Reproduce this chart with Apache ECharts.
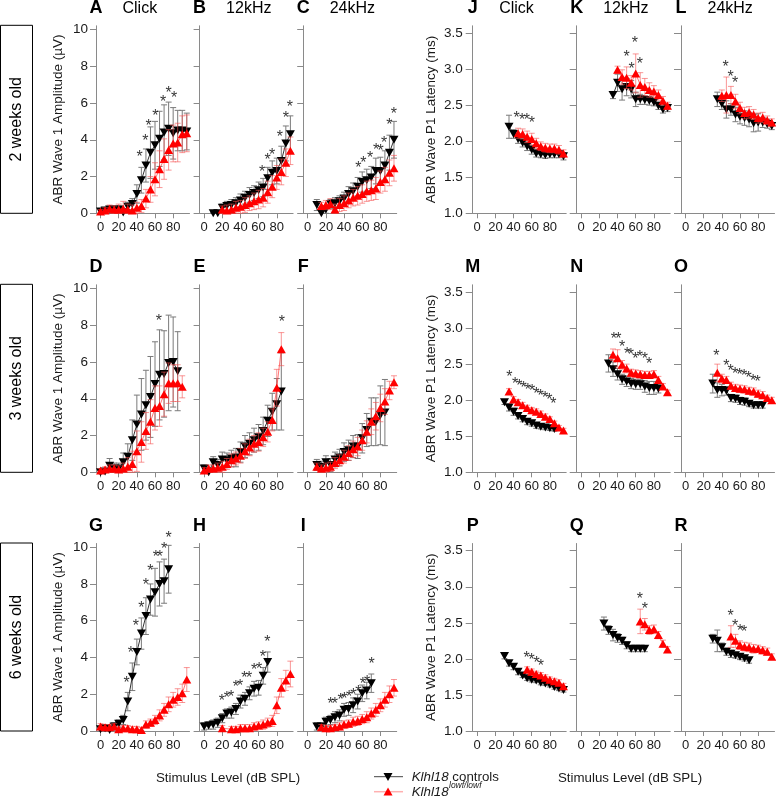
<!DOCTYPE html>
<html><head><meta charset="utf-8">
<script src="https://cdn.jsdelivr.net/npm/echarts@6/dist/echarts.min.js"></script>
<style>html,body{margin:0;padding:0;background:#fff}#c{width:776px;height:798px}</style>
</head><body><div id="c"></div><script>
// ===== DATA: [stimulus level dB SPL, mean, error] ; significance: [level, y] =====
// --- ABR Wave 1 Amplitude (µV) ---
const A_ctrl=[[0,0.10,0.15],[5,0.15,0.15],[10,0.2,0.2],[15,0.2,0.15],[20,0.2,0.2],[25,0.05,0.2],[30,0.35,0.25],[35,0.5,0.3],[40,1.05,0.5],[45,1.8,0.7],[50,2.6,0.9],[55,3.3,1.4],[60,3.7,1.3],[65,4.05,1.5],[70,4.4,1.5],[75,4.6,1.45],[80,4.35,1.4],[85,4.5,1.1],[90,4.5,1.1],[95,4.45,1.0]];
const A_mut=[[0,0.1,0.1],[5,0.15,0.15],[10,0.25,0.2],[15,0.2,0.2],[20,0.2,0.3],[25,0.25,0.4],[30,0.2,0.3],[35,0.15,0.3],[40,0.3,0.3],[45,0.4,0.35],[50,0.8,0.5],[55,1.3,0.7],[60,1.85,0.9],[65,2.4,1.0],[70,2.95,1.1],[75,3.45,1.1],[80,3.8,1.0],[85,3.85,1.05],[90,4.3,1.0],[95,4.35,1.0]];
const A_sig=[[43,3.26],[49.5,4.17],[53,4.98],[60.5,5.53],[69,6.29],[75,6.74],[81,6.49]];
const B_ctrl=[[10,0.0,0.05],[15,0.0,0.05],[20,0.3,0.2],[25,0.4,0.25],[30,0.45,0.3],[35,0.55,0.3],[40,0.7,0.35],[45,0.85,0.35],[50,1.0,0.4],[55,1.1,0.4],[60,1.25,0.45],[65,1.4,0.5],[70,1.9,0.6],[75,2.2,0.65],[80,2.3,0.7],[85,2.85,0.8],[90,3.8,0.95],[95,4.3,1.0]];
const B_mut=[[20,0.2,0.2],[25,0.15,0.3],[30,0.2,0.3],[35,0.3,0.35],[40,0.35,0.35],[45,0.45,0.4],[50,0.55,0.4],[55,0.65,0.45],[60,0.75,0.5],[65,0.85,0.5],[70,1.15,0.6],[75,1.45,0.6],[80,1.95,0.65],[85,2.25,0.7],[90,2.75,0.75],[95,3.4,0.75]];
const B_sig=[[64,2.45],[70,3.1],[75,3.4],[83.5,4.35],[90,5.4],[94.5,6.0]];
const C_ctrl=[[10,0.45,0.3],[15,0.0,0.1],[20,0.2,0.2],[25,0.5,0.25],[30,0.55,0.3],[35,0.65,0.3],[40,0.8,0.35],[45,1.05,0.4],[50,1.2,0.45],[55,1.45,0.5],[60,1.7,0.55],[65,1.8,0.6],[70,1.95,0.6],[75,2.3,0.7],[80,2.3,0.75],[85,2.6,0.8],[90,3.3,0.95],[95,4.0,1.0]];
const C_mut=[[15,0.4,0.2],[20,0.45,0.25],[25,0.5,0.3],[30,0.2,0.3],[35,0.45,0.35],[40,0.55,0.4],[45,0.7,0.4],[50,0.85,0.45],[55,0.95,0.5],[60,1.05,0.5],[65,1.2,0.55],[70,1.25,0.55],[75,1.35,0.6],[80,1.7,0.6],[85,1.85,0.65],[90,2.2,0.7],[95,2.45,0.7]];
const C_sig=[[55.8,2.66],[61.3,2.93],[68.6,3.22],[75.2,3.68],[80.3,3.62],[84,4.02],[89.8,5.03],[95,5.6]];
const D_ctrl=[[0,0.0,0.1],[5,0.05,0.15],[10,0.35,0.4],[15,0.2,0.3],[20,0.2,0.3],[25,0.55,0.5],[30,0.85,0.7],[35,1.75,1.1],[40,2.6,1.6],[45,3.15,1.95],[50,3.65,1.9],[55,4.1,2.2],[60,4.8,2.3],[65,5.3,2.45],[70,5.35,2.35],[75,5.95,2.6],[80,6.0,2.45],[85,5.5,2.15]];
const D_mut=[[0,0.1,0.1],[5,0.15,0.15],[10,0.2,0.2],[15,0.2,0.2],[20,0.15,0.2],[25,0.2,0.3],[30,0.3,0.5],[35,0.45,0.7],[40,1.15,1.1],[45,1.65,1.1],[50,2.25,1.0],[55,2.75,1.2],[60,3.5,1.2],[65,3.6,1.1],[70,4.25,1.2],[75,4.85,1.1],[80,4.85,1.0],[85,4.85,1.0],[90,4.65,0.6]];
const D_sig=[[64.2,8.46]];
const E_ctrl=[[0,0.2,0.2],[5,0.0,0.15],[10,0.55,0.3],[15,0.4,0.3],[20,0.7,0.4],[25,0.65,0.4],[30,0.75,0.45],[35,0.8,0.5],[40,1.1,0.55],[45,1.4,0.6],[50,1.55,0.6],[55,1.75,0.65],[60,1.9,0.7],[65,2.25,0.75],[70,2.8,0.85],[75,3.3,1.0],[80,3.7,1.4],[85,4.4,2.1]];
const E_mut=[[0,0.1,0.15],[5,0.2,0.2],[10,0.2,0.2],[15,0.25,0.25],[20,0.3,0.3],[25,0.45,0.3],[30,0.65,0.35],[35,0.75,0.35],[40,0.9,0.4],[45,1.15,0.4],[50,1.35,0.45],[55,1.55,0.45],[60,1.65,0.5],[65,1.9,0.5],[70,2.2,0.55],[75,2.85,0.6],[80,4.6,1.0],[85,6.7,0.9]];
const E_sig=[[85.5,8.37]];
const F_ctrl=[[10,0.4,0.3],[15,0.3,0.3],[20,0.55,0.35],[25,0.4,0.35],[30,0.7,0.4],[35,0.8,0.45],[40,1.1,0.5],[45,1.2,0.55],[50,1.4,0.6],[55,1.4,0.65],[60,1.85,0.8],[65,2.3,0.9],[70,2.75,1.3],[75,2.75,1.3],[80,3.1,1.6],[85,3.25,1.8]];
const F_mut=[[10,0.3,0.2],[15,0.2,0.2],[20,0.25,0.25],[25,0.3,0.25],[30,0.5,0.3],[35,0.65,0.3],[40,0.85,0.35],[45,1.05,0.4],[50,1.25,0.45],[55,1.4,0.5],[60,1.75,0.55],[65,2.2,0.6],[70,2.75,0.7],[75,3.05,0.75],[80,3.5,0.75],[85,3.85,0.7],[90,4.45,0.5],[95,4.9,0.35]];
const F_sig=[];
const G_ctrl=[[0,0.1,0.15],[5,0.15,0.2],[10,0.05,0.15],[15,0.25,0.2],[20,0.4,0.2],[25,0.6,0.25],[30,1.6,0.5],[35,2.95,0.75],[40,4.3,0.7],[45,5.3,0.85],[50,6.25,1.0],[55,7.15,0.85],[60,7.55,1.3],[65,8.0,1.2],[70,8.15,1.2],[75,8.8,1.3]];
const G_mut=[[0,0.25,0.15],[5,0.2,0.15],[10,0.2,0.15],[15,0.25,0.15],[20,0.1,0.15],[25,0.15,0.15],[30,0.15,0.15],[35,0.1,0.15],[40,0.1,0.15],[45,0.05,0.15],[50,0.35,0.2],[55,0.45,0.2],[60,0.6,0.25],[65,0.85,0.3],[70,1.15,0.35],[75,1.45,0.4],[80,1.7,0.4],[85,1.85,0.45],[90,2.05,0.5],[95,2.8,0.65]];
const G_sig=[[28.6,2.8],[33.4,4.47],[38.9,5.9],[45,6.9],[50,8.13],[55,8.9],[61,9.66],[65.3,9.66],[70,10.1],[75,10.7]];
const H_ctrl=[[0,0.25,0.2],[5,0.3,0.2],[10,0.35,0.25],[15,0.45,0.25],[20,0.7,0.25],[25,0.95,0.25],[30,1.0,0.3],[35,1.2,0.3],[40,1.6,0.35],[45,1.75,0.35],[50,2.05,0.35],[55,2.3,0.4],[60,2.35,0.4],[65,3.0,0.45],[70,3.75,0.55]];
const H_mut=[[20,0.15,0.15],[30,0.1,0.15],[35,0.1,0.15],[40,0.15,0.2],[45,0.15,0.2],[50,0.15,0.2],[55,0.25,0.2],[60,0.3,0.2],[65,0.35,0.25],[70,0.45,0.25],[75,0.55,0.3],[80,1.4,0.45],[85,2.35,0.5],[90,2.75,0.55],[95,3.1,0.7]];
const H_sig=[[19.4,1.82],[25,2.0],[29.7,2.07],[35,2.58],[39.6,2.67],[44.4,3.08],[49.5,3.12],[55,3.53],[60.5,3.57],[64.6,4.23],[69.7,5.06]];
const I_ctrl=[[10,0.25,0.2],[15,0.25,0.2],[20,0.5,0.25],[25,0.6,0.25],[30,0.75,0.3],[35,0.85,0.3],[40,1.15,0.35],[45,1.2,0.35],[50,1.4,0.4],[55,1.6,0.4],[60,2.05,0.45],[65,2.2,0.45],[70,2.6,0.5]];
const I_mut=[[15,0.2,0.15],[20,0.15,0.15],[25,0.15,0.15],[30,0.2,0.15],[35,0.25,0.2],[40,0.35,0.2],[45,0.4,0.2],[50,0.5,0.25],[55,0.55,0.25],[60,0.65,0.25],[65,0.75,0.3],[70,0.95,0.3],[75,1.15,0.35],[80,1.4,0.35],[85,1.7,0.4],[90,2.0,0.45],[95,2.35,0.45]];
const I_sig=[[25.3,1.68],[30,1.68],[36.3,1.9],[40.4,1.95],[45.5,2.04],[50.3,2.18],[55.8,2.36],[60.6,2.76],[65.3,2.9],[70.5,3.84]];
// --- ABR Wave P1 Latency (ms) ---
const J_ctrl=[[35,2.2,0.16],[40,2.1,0.06],[45,2.03,0.06],[50,1.98,0.06],[55,1.93,0.06],[60,1.88,0.06],[65,1.83,0.05],[70,1.82,0.05],[75,1.81,0.05],[80,1.82,0.05],[85,1.82,0.05],[90,1.82,0.05],[95,1.79,0.05]];
const J_mut=[[45,2.11,0.07],[50,2.1,0.07],[55,2.06,0.08],[60,2.03,0.08],[65,1.97,0.07],[70,1.93,0.06],[75,1.91,0.06],[80,1.9,0.06],[85,1.9,0.06],[90,1.88,0.06],[95,1.83,0.05]];
const J_sig=[[43.4,2.37],[49.3,2.35],[54.7,2.35],[60.2,2.3]];
const K_ctrl=[[35,2.64,0.05],[40,2.81,0.12],[45,2.72,0.15],[50,2.75,0.12],[55,2.72,0.12],[60,2.58,0.1],[65,2.58,0.07],[70,2.57,0.06],[75,2.56,0.06],[80,2.54,0.05],[85,2.49,0.05],[90,2.44,0.05],[95,2.46,0.05]];
const K_mut=[[40,2.99,0.05],[45,2.89,0.1],[50,2.88,0.15],[55,2.81,0.1],[60,2.94,0.27],[65,2.78,0.17],[70,2.75,0.12],[75,2.71,0.1],[80,2.69,0.08],[85,2.64,0.07],[90,2.56,0.06],[95,2.49,0.05]];
const K_sig=[[50,3.22],[55.5,3.06],[59,3.41],[64.6,3.13]];
const L_ctrl=[[35,2.58,0.1],[40,2.52,0.08],[45,2.44,0.12],[50,2.44,0.08],[55,2.37,0.1],[60,2.34,0.1],[65,2.32,0.1],[70,2.3,0.1],[75,2.25,0.12],[80,2.26,0.12],[85,2.26,0.07],[90,2.24,0.06],[95,2.21,0.05]];
const L_mut=[[40,2.63,0.08],[45,2.64,0.25],[50,2.64,0.12],[55,2.55,0.1],[60,2.46,0.08],[65,2.39,0.08],[70,2.4,0.08],[75,2.37,0.07],[80,2.32,0.07],[85,2.33,0.07],[90,2.29,0.06],[95,2.26,0.05]];
const L_sig=[[44.2,3.08],[49.6,2.95],[54.7,2.86]];
const M_ctrl=[[30,1.97,0.03],[35,1.9,0.05],[40,1.84,0.05],[45,1.78,0.04],[50,1.74,0.04],[55,1.7,0.04],[60,1.68,0.04],[65,1.65,0.04],[70,1.63,0.03],[75,1.62,0.03],[80,1.61,0.03],[85,1.6,0.03]];
const M_mut=[[35,2.12,0.04],[40,2.01,0.04],[45,1.97,0.04],[50,1.93,0.04],[55,1.89,0.04],[60,1.86,0.04],[65,1.84,0.04],[70,1.81,0.04],[75,1.77,0.04],[80,1.74,0.03],[85,1.68,0.03],[90,1.62,0.03],[95,1.58,0.03]];
const M_sig=[[35.4,2.37],[41.6,2.28],[46.5,2.25],[51,2.23],[55.8,2.2],[60.5,2.18],[65,2.14],[69.7,2.11],[74.8,2.08],[79.5,2.05],[83.9,2.0]];
const N_ctrl=[[30,2.51,0.12],[35,2.43,0.1],[40,2.36,0.08],[45,2.29,0.07],[50,2.26,0.07],[55,2.23,0.07],[60,2.22,0.07],[65,2.22,0.07],[70,2.19,0.08],[75,2.17,0.09],[80,2.17,0.09],[85,2.16,0.06]];
const N_mut=[[35,2.63,0.08],[40,2.58,0.12],[45,2.49,0.06],[50,2.44,0.06],[55,2.38,0.05],[60,2.37,0.05],[65,2.36,0.05],[70,2.35,0.05],[75,2.35,0.05],[80,2.36,0.05],[85,2.28,0.05],[90,2.19,0.04],[95,2.11,0.03]];
const N_sig=[[36,2.9],[41,2.9],[45,2.79],[50.4,2.69],[54.7,2.68],[59.5,2.63],[64.6,2.65],[70,2.63],[74.8,2.56]];
const O_ctrl=[[30,2.23,0.13],[35,2.14,0.1],[40,2.14,0.08],[45,2.13,0.06],[50,2.03,0.05],[55,2.02,0.05],[60,1.99,0.05],[65,1.98,0.05],[70,1.95,0.04],[75,1.93,0.04],[80,1.93,0.04],[85,1.93,0.04]];
const O_mut=[[35,2.38,0.12],[40,2.3,0.06],[45,2.28,0.05],[50,2.2,0.05],[55,2.17,0.05],[60,2.16,0.05],[65,2.15,0.05],[70,2.13,0.05],[75,2.12,0.05],[80,2.09,0.05],[85,2.07,0.05],[90,2.03,0.04],[95,2.0,0.04]];
const O_sig=[[34,2.66],[44.9,2.53],[49.6,2.46],[54.5,2.42],[59.5,2.4],[64.6,2.39],[69.6,2.36],[74.5,2.32],[79.4,2.31]];
const P_ctrl=[[30,2.04,0.04],[35,1.94,0.04],[40,1.89,0.04],[45,1.82,0.04],[50,1.77,0.03],[55,1.73,0.03],[60,1.71,0.03],[65,1.7,0.03],[70,1.67,0.03],[75,1.66,0.03],[80,1.64,0.03],[85,1.61,0.03],[90,1.59,0.03],[95,1.57,0.03]];
const P_mut=[[55,1.85,0.04],[60,1.82,0.04],[65,1.79,0.04],[70,1.77,0.04],[75,1.74,0.04],[80,1.71,0.04],[85,1.69,0.04],[90,1.67,0.04],[95,1.62,0.04]];
const P_sig=[[54.4,2.07],[59.9,2.04],[65.3,2.0],[70.1,1.96]];
const Q_ctrl=[[25,2.49,0.09],[30,2.4,0.06],[35,2.33,0.08],[40,2.29,0.06],[45,2.25,0.05],[50,2.19,0.05],[55,2.14,0.04],[60,2.14,0.04],[65,2.14,0.04],[70,2.14,0.04]];
const Q_mut=[[65,2.52,0.17],[70,2.48,0.08],[75,2.4,0.06],[80,2.41,0.06],[85,2.33,0.05],[90,2.21,0.05],[95,2.13,0.04]];
const Q_sig=[[64.6,2.88],[70,2.75]];
const R_ctrl=[[30,2.28,0.06],[35,2.25,0.15],[40,2.16,0.06],[45,2.1,0.05],[50,2.07,0.05],[55,2.05,0.04],[60,2.03,0.04],[65,2.01,0.04],[70,1.98,0.04]];
const R_mut=[[50,2.31,0.15],[55,2.25,0.09],[60,2.19,0.06],[65,2.17,0.06],[70,2.16,0.06],[75,2.14,0.06],[80,2.14,0.05],[85,2.12,0.05],[90,2.1,0.05],[95,2.03,0.04]];
const R_sig=[[49.6,2.65],[54.7,2.51],[60,2.44],[64.5,2.43]];

// tick labels & texts
const xTicks=[0,20,40,60,80];
const ampTicks=[0,2,4,6,8,10];
const latTicks=[1.0,1.5,2.0,2.5,3.0,3.5];
const stimuli=['Click','12kHz','24kHz'];
const ages=['2 weeks old','3 weeks old','6 weeks old'];
const ampName='ABR Wave 1 Amplitude (\u00b5V)';
const latName='ABR Wave P1 Latency (ms)';
const xName='Stimulus Level (dB SPL)';

const DATA={A:[A_ctrl,A_mut,A_sig],B:[B_ctrl,B_mut,B_sig],C:[C_ctrl,C_mut,C_sig],D:[D_ctrl,D_mut,D_sig],E:[E_ctrl,E_mut,E_sig],F:[F_ctrl,F_mut,F_sig],G:[G_ctrl,G_mut,G_sig],H:[H_ctrl,H_mut,H_sig],I:[I_ctrl,I_mut,I_sig],J:[J_ctrl,J_mut,J_sig],K:[K_ctrl,K_mut,K_sig],L:[L_ctrl,L_mut,L_sig],M:[M_ctrl,M_mut,M_sig],N:[N_ctrl,N_mut,N_sig],O:[O_ctrl,O_mut,O_sig],P:[P_ctrl,P_mut,P_sig],Q:[Q_ctrl,Q_mut,Q_sig],R:[R_ctrl,R_mut,R_sig]};
const LETTERS=[['A','B','C','J','K','L'],['D','E','F','M','N','O'],['G','H','I','P','Q','R']];

// ===== LAYOUT / STYLE =====
const FONT='"Liberation Sans", Arial, Helvetica, sans-serif';
const colLeft=[96,199.6,303.2,472.7,576.7,681];
const rowBottom=[213.3,472.3,731];
const W=93.5, H=187.5;
const AXC='#8a8a8a', TXT='#1a1a1a';

function errRender(color){
  return function(params, api){
    const x=api.value(0), lo=api.value(1), hi=api.value(2);
    const p1=api.coord([x,lo]), p2=api.coord([x,hi]);
    const w=3, st={stroke:color,lineWidth:1};
    return {type:'group',children:[
      {type:'line',shape:{x1:p1[0],y1:p1[1],x2:p2[0],y2:p2[1]},style:st},
      {type:'line',shape:{x1:p2[0]-w,y1:p2[1],x2:p2[0]+w,y2:p2[1]},style:st},
      {type:'line',shape:{x1:p1[0]-w,y1:p1[1],x2:p1[0]+w,y2:p1[1]},style:st}
    ]};
  };
}

const grids=[],xAxes=[],yAxes=[],series=[],graphics=[];
let k=0;
for(let r=0;r<3;r++){
  for(let c=0;c<6;c++){
    const id=LETTERS[r][c];
    const isAmp=c<3;
    const ymin=isAmp?0:1, ymax=isAmp?10.2:3.6;
    const left=colLeft[c], bottom=rowBottom[r];
    grids.push({left:left,top:bottom-H,width:W,height:H,containLabel:false,outerBoundsMode:'none'});
    xAxes.push({gridIndex:k,type:'value',min:-5,max:98,
      axisLine:{show:true,onZero:false,lineStyle:{color:AXC,width:1}},
      axisTick:{show:true,length:5,customValues:xTicks,lineStyle:{color:AXC}},
      axisLabel:{show:true,customValues:xTicks,fontSize:13,color:TXT,margin:8,fontFamily:FONT},
      splitLine:{show:false}});
    const ticks=isAmp?ampTicks:latTicks;
    const first=(c===0||c===3);
    yAxes.push({gridIndex:k,type:'value',min:ymin,max:ymax,
      axisLine:{show:true,onZero:false,lineStyle:{color:AXC,width:1}},
      axisTick:{show:true,length:isAmp?6:7,customValues:ticks,lineStyle:{color:AXC}},
      axisLabel:{show:first,customValues:ticks,fontSize:13.5,color:TXT,margin:isAmp?8:10,fontFamily:FONT,
        formatter:isAmp?(v=>String(v)):(v=>v.toFixed(1))},
      splitLine:{show:false}});
    const [ctrl,mut,sig]=DATA[id];
    const eb=d=>[d[0],Math.max(ymin,d[1]-d[2]),d[1]+d[2]];
    series.push({type:'custom',xAxisIndex:k,yAxisIndex:k,renderItem:errRender('#7a7a7a'),encode:{x:0,y:[1,2]},data:ctrl.map(eb),z:2,silent:true});
    series.push({type:'line',xAxisIndex:k,yAxisIndex:k,data:ctrl.map(d=>[d[0],d[1]]),symbol:'triangle',symbolRotate:180,symbolSize:[9,8],
      itemStyle:{color:'#000'},lineStyle:{color:'#333',width:1},z:3,silent:true});
    series.push({type:'custom',xAxisIndex:k,yAxisIndex:k,renderItem:errRender('rgba(245,80,80,0.6)'),encode:{x:0,y:[1,2]},data:mut.map(eb),z:4,silent:true});
    series.push({type:'line',xAxisIndex:k,yAxisIndex:k,data:mut.map(d=>[d[0],d[1]]),symbol:'triangle',symbolSize:[9,8],
      itemStyle:{color:'#ff0000'},lineStyle:{color:'rgba(255,60,60,0.7)',width:1},z:5,silent:true});
    series.push({type:'scatter',xAxisIndex:k,yAxisIndex:k,data:sig,symbol:'circle',symbolSize:1,clip:false,
      itemStyle:{color:'rgba(0,0,0,0)'},
      label:{show:true,formatter:'*',position:'inside',offset:[0,4.5],fontSize:16,color:'#000',fontFamily:FONT},z:6,silent:true});
    // panel letter
    graphics.push({type:'text',x:left,y:bottom-204.8,style:{text:id,font:'bold 18px '+FONT,fill:'#000',align:'center',verticalAlign:'middle'}});
    if(r===0){
      graphics.push({type:'text',x:left+26.5,y:8.5,style:{text:stimuli[c%3],font:'16px '+FONT,fill:'#000',align:'left',verticalAlign:'middle'}});
    }
    if(first){
      graphics.push({type:'text',x:isAmp?58:431.7,y:bottom-H/2,rotation:Math.PI/2,
        style:{text:isAmp?ampName:latName,font:'13.5px '+FONT,fill:TXT,align:'center',verticalAlign:'middle'}});
    }
    k++;
  }
  // age box
  graphics.push({type:'rect',shape:{x:0.5,y:rowBottom[r]-188,width:32,height:188},style:{fill:'none',stroke:'#000',lineWidth:1}});
  graphics.push({type:'text',x:17,y:rowBottom[r]-94,rotation:Math.PI/2,style:{text:ages[r],font:'16px '+FONT,fill:'#000',align:'center',verticalAlign:'middle'}});
}
// bottom axis titles
graphics.push({type:'text',x:228,y:778,style:{text:xName,font:'13.3px '+FONT,fill:TXT,align:'center',verticalAlign:'middle'}});
graphics.push({type:'text',x:630,y:778,style:{text:xName,font:'13.3px '+FONT,fill:TXT,align:'center',verticalAlign:'middle'}});
// legend
graphics.push({type:'line',shape:{x1:374,y1:776.7,x2:403,y2:776.7},style:{stroke:'#444',lineWidth:1}});
graphics.push({type:'polygon',shape:{points:[[383.5,773],[392.5,773],[388,781]]},style:{fill:'#000'}});
graphics.push({type:'text',x:411.7,y:777,style:{text:'{i|Klhl18} controls',font:'13.3px '+FONT,fill:TXT,verticalAlign:'middle',align:'left',
  rich:{i:{fontStyle:'italic',fontSize:13.3,fontFamily:FONT,fill:TXT,color:TXT}}}});
graphics.push({type:'line',shape:{x1:374,y1:791.7,x2:403,y2:791.7},style:{stroke:'#ffb0b0',lineWidth:1.5}});
graphics.push({type:'polygon',shape:{points:[[383.5,795.5],[392.5,795.5],[388,787.5]]},style:{fill:'#ff0000'}});
graphics.push({type:'text',x:411.7,y:792,style:{text:'Klhl18',font:'italic 13.3px '+FONT,fill:TXT,verticalAlign:'middle',align:'left'}});
graphics.push({type:'text',x:449,y:786,style:{text:'lowf/lowf',font:'italic 8.5px '+FONT,fill:TXT,verticalAlign:'middle',align:'left'}});

const chart=echarts.init(document.getElementById('c'),null,{renderer:'canvas'});
chart.setOption({
  animation:false,
  backgroundColor:'#fff',
  textStyle:{fontFamily:FONT},
  grid:grids,xAxis:xAxes,yAxis:yAxes,series:series,
  graphic:{elements:graphics}
});
</script></body></html>
